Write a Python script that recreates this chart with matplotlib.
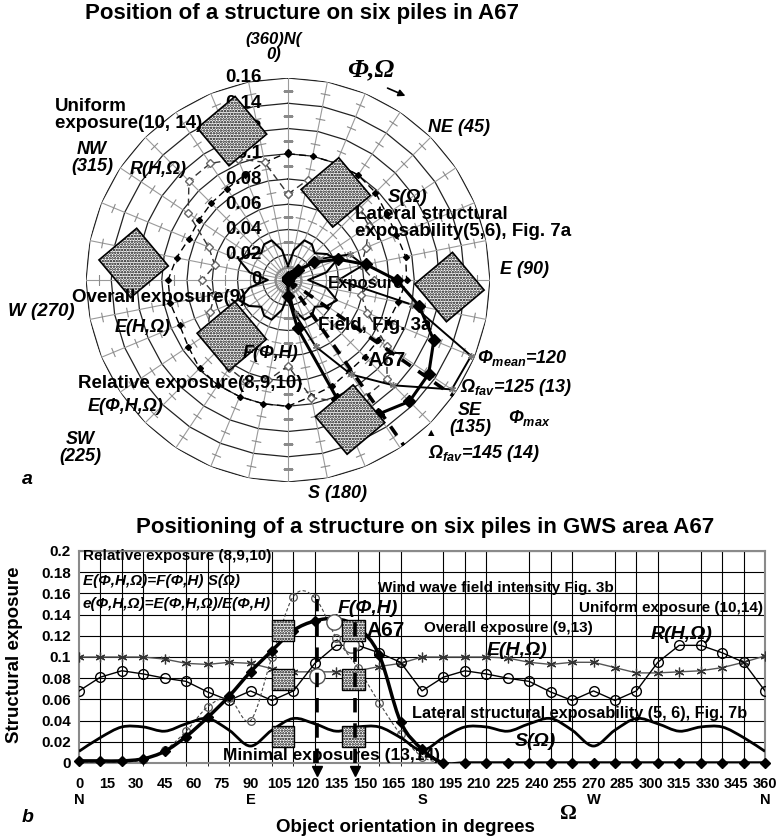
import numpy as np
import matplotlib
matplotlib.use('Agg')
import matplotlib.pyplot as plt
from matplotlib.path import Path
from matplotlib.patches import PathPatch, Rectangle
from matplotlib.transforms import offset_copy

plt.rcParams['font.family'] = ['Liberation Sans', 'DejaVu Sans']
plt.rcParams['mathtext.fontset'] = 'custom'
plt.rcParams['mathtext.rm'] = 'Liberation Sans:bold:italic'
plt.rcParams['mathtext.it'] = 'Liberation Sans:bold:italic'
plt.rcParams['hatch.linewidth'] = 1.2

# orientation of the object, degrees (32 directions + closing 360)
angles = [0, 11.25, 22.5, 33.75, 45, 56.25, 67.5, 78.75, 90, 101.25, 112.5, 123.75,
          135, 146.25, 157.5, 168.75, 180, 191.25, 202.5, 213.75, 225, 236.25, 247.5,
          258.75, 270, 281.25, 292.5, 303.75, 315, 326.25, 337.5, 348.75, 360]

uniform = [0.100, 0.100, 0.100, 0.100, 0.098, 0.094, 0.093, 0.095, 0.094, 0.089, 0.086,
           0.086, 0.086, 0.087, 0.091, 0.094, 0.100, 0.100, 0.100, 0.100, 0.099, 0.095,
           0.093, 0.095, 0.095, 0.090, 0.085, 0.085, 0.086, 0.087, 0.090, 0.095, 0.101]
overall = [0.068, 0.081, 0.087, 0.084, 0.080, 0.077, 0.067, 0.059, 0.068, 0.059, 0.068,
           0.094, 0.111, 0.111, 0.104, 0.095, 0.068, 0.081, 0.087, 0.084, 0.080, 0.077,
           0.067, 0.059, 0.068, 0.059, 0.068, 0.095, 0.111, 0.111, 0.104, 0.095, 0.068]
field_F = [0.002, 0.002, 0.002, 0.004, 0.011, 0.025, 0.043, 0.063, 0.086, 0.106, 0.125,
           0.134, 0.136, 0.128, 0.102, 0.039, 0.013, 0, 0, 0, 0, 0, 0, 0, 0, 0, 0, 0,
           0, 0, 0, 0, 0]
relative = [0.001, 0.001, 0.001, 0.003, 0.012, 0.030, 0.053, 0.061, 0.040, 0.100, 0.157,
            0.156, 0.118, 0.090, 0.057, 0.027, 0.006, 0, 0, 0, 0, 0, 0, 0, 0, 0, 0, 0,
            0, 0, 0, 0, 0]
lateral_S = [0.011, 0.024, 0.034, 0.034, 0.030, 0.037, 0.042, 0.031, 0.016, 0.031, 0.042,
             0.037, 0.030, 0.034, 0.034, 0.024, 0.012, 0.024, 0.034, 0.034, 0.030, 0.037,
             0.042, 0.031, 0.016, 0.031, 0.042, 0.037, 0.030, 0.034, 0.034, 0.024, 0.011]

fav_dirs = [125, 145]
fav_tops = [0.155, 0.135]
big_x = [125, 134, 143]
big_y = [0.082, 0.133, 0.111]
pile_cols = [107, 144]
pile_rows = [0.125, 0.079, 0.025]
# six piles in the rose (direction, radius)
pile_dir = [339.4, 28.6, 92.5, 156, 276.3, 225]
pile_rad = [0.126, 0.079, 0.128, 0.121, 0.123, 0.063]
rings = [0.02, 0.04, 0.06, 0.08, 0.10, 0.12, 0.14, 0.16]
ring_labels = ['0', '0.02', '0.04', '0.06', '0.08', '0.1', '0.12', '0.14', '0.16']
xticks = list(range(0, 361, 15))
compass = [(0, 'N'), (90, 'E'), (180, 'S'), (270, 'W'), (360, 'N')]

W, H = 778, 839
fig = plt.figure(figsize=(W / 100, H / 100), dpi=100)


def ftext(x, y, s, **kw):
    kw.setdefault('va', 'center')
    kw.setdefault('fontweight', 'bold')
    fig.text(x / W, 1 - y / H, s, **kw)


def smooth(xs, ys):
    pts = np.column_stack([xs, ys]).astype(float)
    verts = [pts[0]]
    codes = [Path.MOVETO]
    n = len(pts)
    for i in range(n - 1):
        p0 = pts[i - 1] if i > 0 else pts[i]
        p1, p2 = pts[i], pts[i + 1]
        p3 = pts[i + 2] if i + 2 < n else pts[i + 1]
        verts += [p1 + (p2 - p0) / 6, p2 - (p3 - p1) / 6, p2]
        codes += [Path.CURVE4] * 3
    return Path(verts, codes)


# ---------------- a : rose (radar) ----------------
rect = [86 / W, 1 - 482 / H, 404 / W, 404 / H]
ax = fig.add_axes(rect, projection='polar')
ax.set_theta_zero_location('N')
ax.set_theta_direction(-1)
ax.set_ylim(0, 0.16)
ax.axis('off')
th = np.deg2rad(angles)
for r in rings:
    ax.plot(th, [r] * len(th), color='#222222', lw=0.9, zorder=1)
for a in angles[:-1]:
    t = np.deg2rad(a)
    ax.plot([t, t], [0, 0.16], color='#9a9a9a', lw=0.8, zorder=1)
    ax.plot([t] * 8, [0.01, 0.03, 0.05, 0.07, 0.09, 0.11, 0.13, 0.15], ls='none',
            marker=(2, 0, 90 - a), ms=7, mec='#8a8a8a', mew=0.8, zorder=1)
lab_tr = offset_copy(ax.transData, fig=fig, x=-26, y=0, units='dots')
for r, s in zip([0] + rings, ring_labels):
    ax.text(0, r, s, transform=lab_tr, ha='right', va='center', fontsize=13.5,
            fontweight='bold', zorder=2)

ax.plot(th, uniform, color='black', lw=1, dashes=(5, 3), marker='D', ms=3,
        mfc='black', mec='black', zorder=3)
ax.plot(th, overall, color='#333333', lw=1, dashes=(5, 3), marker='D', ms=4,
        mfc='white', mec='#666666', zorder=3)
ax.plot(th, lateral_S, color='black', lw=1.5, zorder=3)
ax.plot(th, relative, color='black', lw=1.4, marker=(6, 2, 0), ms=5, mec='#777777',
        zorder=3)
ax.plot(th, field_F, color='black', lw=2.2, marker='D', ms=6, zorder=4)
for d in fav_dirs:
    ax.plot([np.deg2rad(d)] * 2, [0, 0.16], color='black', lw=2.6, dashes=(3, 2.5),
            zorder=5)

ax_sq = fig.add_axes(rect)
ax_sq.set_xlim(-0.16, 0.16)
ax_sq.set_ylim(-0.16, 0.16)
ax_sq.axis('off')
side = 0.039
for d, r in zip(pile_dir, pile_rad):
    cx, cy = r * np.sin(np.deg2rad(d)), r * np.cos(np.deg2rad(d))
    ax_sq.add_patch(Rectangle((cx - side / 2, cy - side / 2), side, side, angle=40,
                              rotation_point='center', facecolor='white',
                              edgecolor='black', hatch='......', lw=1.2, zorder=6))

ax_arrow = fig.add_axes([0, 0, 1, 1], facecolor='none')
ax_arrow.axis('off')
ax_arrow.set_xlim(0, W)
ax_arrow.set_ylim(H, 0)
ax_arrow.annotate('', xy=(408, 97), xytext=(385, 87),
                  arrowprops=dict(arrowstyle='-|>', color='black', lw=1.2, mutation_scale=10))

ftext(302, 13, 'Position of a structure on six piles in A67', ha='center', fontsize=16)
ftext(274, 47, '(360)N(\n0)', ha='center', fontsize=12, style='italic', linespacing=1.0)
ftext(371, 70, 'Φ,Ω', ha='center', fontsize=19, style='italic', family='Liberation Serif')
ftext(428, 127, 'NE (45)', fontsize=13, style='italic')
ftext(388, 197, 'S(Ω)', fontsize=13.5, style='italic')
ftext(355, 223, 'Lateral structural\nexposability(5,6), Fig. 7a', fontsize=13.5,
      linespacing=1.0)
ftext(500, 270, 'E (90)', fontsize=13, style='italic')
ftext(328, 283, 'Exposure', fontsize=12)
ftext(318, 325, 'Field, Fig. 3a', fontsize=13.5)
ftext(367, 360, 'A67', fontsize=15)
ftext(243, 353, 'F(Φ,H)', fontsize=13, style='italic')
ftext(72, 297, 'Overall exposure(9)', fontsize=13.5)
ftext(115, 327, 'E(H,Ω)', fontsize=13, style='italic')
ftext(8, 312, 'W (270)', fontsize=13.5, style='italic')
ftext(55, 115, 'Uniform\nexposure(10, 14)', fontsize=13.5, linespacing=1.0)
ftext(92, 158, 'NW\n(315)', ha='center', fontsize=13, style='italic', linespacing=1.0)
ftext(130, 170, 'R(H,Ω)', fontsize=13, style='italic')
ftext(78, 384, 'Relative exposure(8,9,10)', fontsize=13.5)
ftext(88, 407, 'E(Φ,H,Ω)', fontsize=13, style='italic')
ftext(80, 448, 'SW\n(225)', ha='center', fontsize=13, style='italic', linespacing=1.0)
ftext(308, 493, 'S (180)', fontsize=13, style='italic')
ftext(470, 419, 'SE\n(135)', ha='center', fontsize=13, style='italic', linespacing=1.0)
ftext(477, 358, r'$\Phi_{mean}$=120', fontsize=13, style='italic')
ftext(460, 388, r'$\Omega_{fav}$=125 (13)', fontsize=13, style='italic')
ftext(508, 418, r'$\Phi_{max}$', fontsize=13, style='italic')
ftext(428, 453, r'$\Omega_{fav}$=145 (14)', fontsize=13, style='italic')
ftext(431, 433, '▲', fontsize=6, ha='center', family='DejaVu Sans')
ftext(22, 480, 'a', fontsize=14, style='italic')

# ---------------- b : orientation chart ----------------
bx = fig.add_axes([79 / W, 1 - 763 / H, 686 / W, 212 / H])
bx.set_xlim(0, 360)
bx.set_ylim(0, 0.2)
bx.set_xticks(xticks)
bx.set_xticklabels([str(v) for v in xticks])
bx.set_xticks(angles, minor=True)
bx.set_yticks([0, 0.02, 0.04, 0.06, 0.08, 0.1, 0.12, 0.14, 0.16, 0.18, 0.2])
bx.set_yticklabels(['0', '0.02', '0.04', '0.06', '0.08', '0.1', '0.12', '0.14', '0.16',
                    '0.18', '0.2'])
bx.grid(which='minor', axis='x', color='black', lw=0.8)
bx.grid(which='major', axis='y', color='black', lw=0.8)
bx.tick_params(axis='x', which='major', length=0, pad=10, labelsize=10.5)
bx.tick_params(axis='x', which='minor', length=4, direction='inout')
bx.tick_params(axis='y', length=0, pad=6, labelsize=11)
for lbl in bx.get_xticklabels() + bx.get_yticklabels():
    lbl.set_fontweight('bold')
for sp in bx.spines.values():
    sp.set_color('#8a8a8a')
    sp.set_linewidth(1.5)
bx.set_axisbelow(True)

bx.plot(angles, uniform, color='#555555', lw=1, marker=(6, 2, 0), ms=7, mec='#333333',
        mew=0.9, zorder=3)
bx.plot(angles, overall, color='black', lw=1, marker='o', ms=7, mfc='none', mec='black',
        mew=1, zorder=3)
bx.add_patch(PathPatch(smooth(angles, relative), fill=False, ec='#444444', lw=0.8,
                       ls=(0, (3, 2)), zorder=3))
bx.plot(angles[:17], relative[:17], ls='none', marker='o', ms=5.5, mfc='none', mec='#555555',
        mew=0.9, zorder=3)
bx.add_patch(PathPatch(smooth(angles, lateral_S), fill=False, ec='black', lw=2, zorder=3))
bx.add_patch(PathPatch(smooth(angles, field_F), fill=False, ec='black', lw=2.5, zorder=4))
bx.plot(angles, field_F, ls='none', marker='D', ms=5, color='black', zorder=4, clip_on=False)
bx.plot(big_x, big_y, ls='none', marker='o', ms=11, mfc='white', mec='#555555', mew=1,
        zorder=5)
for c in pile_cols:
    for r in pile_rows:
        bx.add_patch(Rectangle((c - 5.9, r - 0.0097), 11.8, 0.0194, facecolor='white',
                               edgecolor='black', hatch='......', lw=1, zorder=6))
for d, t in zip(fav_dirs, fav_tops):
    bx.plot([d, d], [0, t], color='black', lw=2.6, dashes=(4, 3), zorder=7)
bx.plot(fav_dirs, [-0.008] * 2, ls='none', marker='v', ms=7, color='black', clip_on=False)
for a, s in compass:
    bx.text(a, -0.175, s, transform=bx.get_xaxis_transform(), ha='center', va='center',
            fontsize=10.5, fontweight='bold')

bkw = dict(fontsize=11, fontweight='bold', va='center', zorder=8)
bx.text(2, 0.195, 'Relative exposure (8,9,10)', **bkw)
bx.text(2, 0.172, 'E(Φ,H,Ω)=F(Φ,H) S(Ω)', style='italic', **bkw)
bx.text(2, 0.150, 'e(Φ,H,Ω)=E(Φ,H,Ω)/E(Φ,H)', style='italic', **bkw)
bx.text(157, 0.165, 'Wind wave field intensity Fig. 3b', **bkw)
bx.text(359, 0.146, 'Uniform exposure (10,14)', ha='right', **bkw)
bx.text(181, 0.127, 'Overall exposure (9,13)', **bkw)
bx.text(175, 0.047, 'Lateral structural exposability (5, 6), Fig. 7b', fontsize=11.7,
        fontweight='bold', va='center', zorder=8)
bx.text(75.5, 0.0075, 'Minimal exposures (13,14)', fontsize=12.5, fontweight='bold',
        va='center', zorder=8)
bx.text(151, 0.125, 'A67', fontsize=15, fontweight='bold', va='center', zorder=8)
bx.text(135.8, 0.146, 'F(Φ,H)', fontsize=14, fontweight='bold', style='italic',
        va='center', zorder=8)
bx.text(300, 0.121, 'R(H,Ω)', fontsize=14, fontweight='bold', style='italic',
        va='center', zorder=8)
bx.text(213.8, 0.106, 'E(H,Ω)', fontsize=14, fontweight='bold', style='italic',
        va='center', zorder=8)
bx.text(228.5, 0.020, 'S(Ω)', fontsize=14, fontweight='bold', style='italic',
        va='center', zorder=8)

ftext(425, 527, 'Positioning of a structure on six piles in GWS area A67', ha='center',
      fontsize=16)
ftext(15, 655, 'Structural exposure', ha='center', rotation=90, fontsize=13.5)
ftext(405, 828, 'Object orientation in degrees', ha='center', fontsize=13.5)
ftext(568, 814, 'Ω', ha='center', fontsize=15, family='Liberation Serif')
ftext(22, 817, 'b', fontsize=14, style='italic')

fig.savefig('out.png', dpi=100)
